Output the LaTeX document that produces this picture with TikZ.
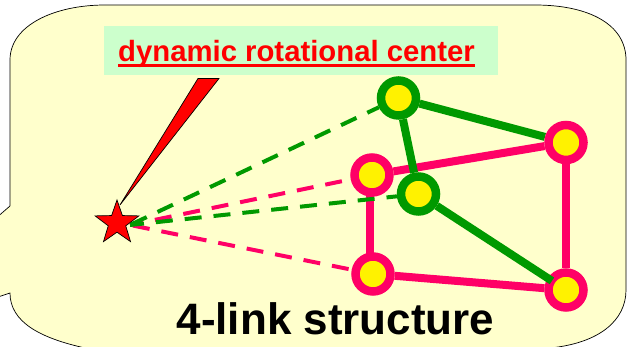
\documentclass[tikz,border=0pt]{standalone}
\usepackage{fontspec}
\setmainfont{Liberation Sans}
\usetikzlibrary{shapes.geometric,backgrounds}
\definecolor{calloutbg}{RGB}{255,255,204}
\definecolor{labelbg}{RGB}{204,255,204}
\definecolor{linkpink}{RGB}{255,0,102}
\definecolor{linkgreen}{RGB}{0,153,0}

\begin{document}
\begin{tikzpicture}[x=1pt, y=-1pt,
    joint/.style={circle, draw, fill=yellow, line width=8.5pt, minimum size=35pt, inner sep=0pt},
    pinkjoint/.style={joint, draw=linkpink},
    greenjoint/.style={joint, draw=linkgreen},
    pinklink/.style={draw=linkpink, line width=8pt},
    greenlink/.style={draw=linkgreen, line width=8pt},
    pinkray/.style={draw=linkpink, line width=4pt, dash pattern=on 17pt off 12pt},
    greenray/.style={draw=linkgreen, line width=4pt, dash pattern=on 17pt off 12pt},
    center star/.style={star, star points=5, star point ratio=2.5, draw=black, fill=red, line width=0.7pt, minimum size=46pt, inner sep=0pt}]
    \useasboundingbox (0,0) rectangle (627,347);

    % Nodes
    \node [pinkjoint] (p1) at (566,142.5) {};
    \node [pinkjoint] (p2) at (372,175) {};
    \node [pinkjoint] (p3) at (373,274) {};
    \node [pinkjoint] (p4) at (566,290) {};
    \node [greenjoint] (g1) at (398.5,98) {};
    \node [greenjoint] (g2) at (418.5,194) {};
    \coordinate (rays) at (130,225);

    % Callout and label
    \begin{scope}[on background layer]
      \clip (0,0) rectangle (627,347);
      \draw [fill=calloutbg, line width=0.7pt] (-20,232) -- (10,206) -- (10,60)
        .. controls (10,25) and (55,5) .. (105,5) -- (535,5)
        .. controls (590,5) and (626,25) .. (626,60) -- (626,290)
        .. controls (626,320) and (600,343) .. (550,348) -- (85,348)
        .. controls (40,338) and (10,322) .. (10,293) -- (-20,303) -- cycle;
      \fill [labelbg] (104,26) rectangle (498,75);

      % Edges
      \path [pinkray, dash phase=3.6pt] (rays) -- (p2);
      \path [pinkray, dash phase=26pt] (rays) -- (p3);
      \path [pinklink] (p2) -- (p1);
      \path [pinklink] (p1) -- (p4);
      \path [pinklink] (p4) -- (p3);
      \path [pinklink] ([xshift=-3pt]p3.center) -- ([xshift=-2pt]p2.center);
      \path [greenray, dash phase=27.5pt] (rays) -- (g1);
      \path [greenray, dash phase=3pt] (rays) -- (g2);
      \path [greenlink] (g1) -- (p1);
      \path [greenlink] (g1) -- (g2);
    \end{scope}
    \path [greenlink, shorten >=-5pt] (g2) -- (p4);

    % Star and pointer
    \node [center star] (center) at (117,223) {};
    \draw [fill=red, line width=0.7pt] (198,78.5) -- (219,78.5) -- ([shift={(3pt,-6pt)}]center.north) -- cycle;

    % Annotations
    \node [anchor=base, font=\bfseries\fontsize{29.3}{29.3}\selectfont, text=red, inner sep=0pt] (title) at (296.5,62) {dynamic rotational center};
    \draw [red, line width=2.2pt] ([yshift=-3.5pt]title.base west) -- ([yshift=-3.5pt]title.base east);
    \node [anchor=base, font=\bfseries\fontsize{44}{44}\selectfont, inner sep=0pt] (caption) at (335.5,335) {4-link structure};
\end{tikzpicture}
\end{document}
